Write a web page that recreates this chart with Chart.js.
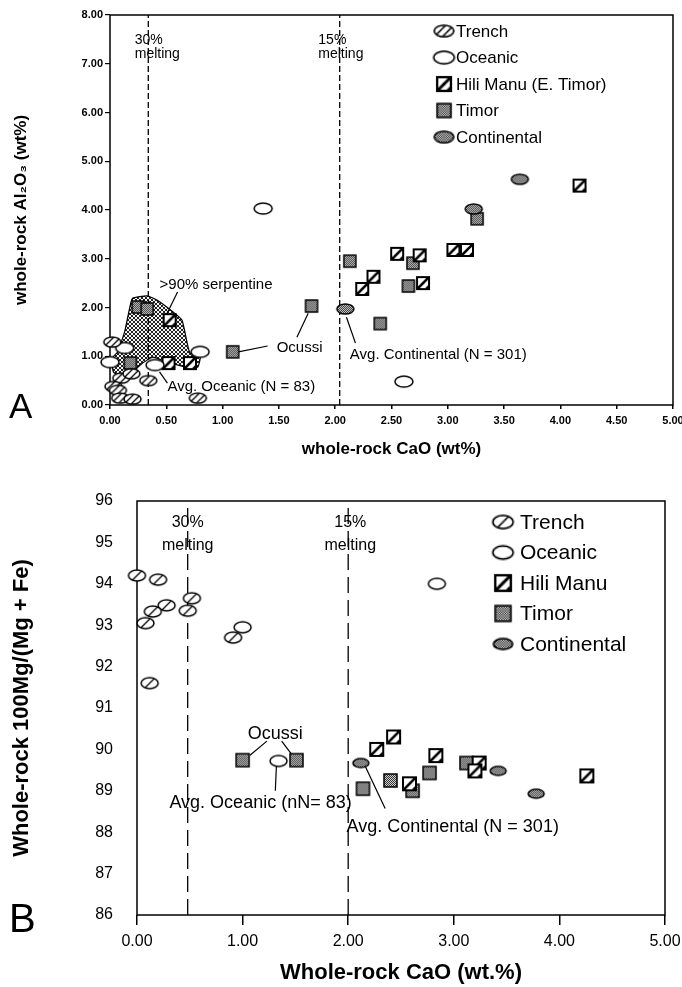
<!DOCTYPE html>
<html>
<head>
<meta charset="utf-8">
<script src="https://cdn.jsdelivr.net/npm/chart.js@4.4.0/dist/chart.umd.min.js"></script>
<style>
  html, body { margin: 0; padding: 0; background: #fff; }
  canvas { display: block; }
</style>
</head>
<body>
<canvas id="graficoA" width="682" height="475" style="width:682px;height:475px"></canvas>
<canvas id="graficoB" width="682" height="512" style="width:682px;height:512px"></canvas>
<script>
// ---- painel A: CaO x Al2O3 (wt%) ----
var trenchA = [[0.02,1.29],[0.1,0.55],[0.19,0.64],[0.03,0.38],[0.07,0.3],[0.09,0.14],[0.2,0.12],[0.34,0.5],[0.78,0.14]];
var oceanicA = [[0.13,1.17],[0.0,0.88],[0.4,0.82],[0.8,1.09],[1.36,4.03],[2.61,0.48]];
var hiliManuA = [[0.53,1.74],[0.52,0.86],[0.71,0.86],[2.24,2.38],[2.34,2.63],[2.55,3.1],[2.75,3.07],[2.78,2.5],[3.05,3.18],[3.17,3.18],[4.17,4.5]];
var timorA = [[0.25,2.01],[0.33,1.97],[0.18,0.86],[1.09,1.09],[1.79,2.03],[2.13,2.95],[2.4,1.67],[2.65,2.44],[2.69,2.91],[3.26,3.82]];
var continentalA = [[2.09,1.97],[3.23,4.02],[3.64,4.63]];
var serpentinaA = [[0.07,1.09],[0.13,1.5],[0.18,2.05],[0.2,2.19],[0.33,2.24],[0.42,2.15],[0.56,1.91],[0.64,1.74],[0.68,1.33],[0.71,1.07],[0.8,0.98],[0.78,0.78],[0.71,0.76],[0.51,0.88],[0.38,0.98],[0.29,0.86],[0.2,0.68],[0.12,0.57],[0.03,0.68],[0.02,0.96],[0.07,1.09]];
var fusaoA = [0.34, 2.04];
var eixoXA = [0, 5, 0.5];
var eixoYA = [0, 8, 1];
var guiasA = [
  [[1.4,1.21],[1.14,1.09]],
  [[1.66,1.39],[1.76,1.88]],
  [[0.6,2.32],[0.49,1.8]],
  [[0.44,0.68],[0.51,0.45]],
  [[2.1,1.8],[2.18,1.27]]
];
var notasA = [
  {x: 0.22, y: 7.49, texto: '30%', fonte: 14},
  {x: 0.22, y: 7.2, texto: 'melting', fonte: 14},
  {x: 1.85, y: 7.49, texto: '15%', fonte: 14},
  {x: 1.85, y: 7.2, texto: 'melting', fonte: 14},
  {x: 0.44, y: 2.46, texto: '>90% serpentine', fonte: 15},
  {x: 1.48, y: 1.17, texto: 'Ocussi', fonte: 15},
  {x: 0.51, y: 0.37, texto: 'Avg. Oceanic (N = 83)', fonte: 15},
  {x: 2.13, y: 1.03, texto: 'Avg. Continental (N = 301)', fonte: 15}
];

// ---- painel B: CaO x Mg# ----
var trenchB = [[0.0,94.2],[0.2,94.1],[0.52,93.65],[0.28,93.48],[0.15,93.33],[0.48,93.35],[0.08,93.05],[0.91,92.7],[0.12,91.6]];
var oceanicB = [[1.0,92.95],[2.84,94.0],[1.34,89.72]];
var hiliManuB = [[2.27,90.0],[2.43,90.3],[2.83,89.85],[2.58,89.17],[3.24,89.67],[3.2,89.48],[4.26,89.36]];
var timorB = [[1.0,89.74],[1.51,89.74],[2.14,89.05],[2.4,89.25],[2.61,89.0],[2.77,89.43],[3.12,89.67]];
var continentalB = [[2.12,89.67],[3.42,89.48],[3.78,88.93]];
var fusaoB = [0.48, 2.0];
var eixoXB = [0, 5, 1];
var eixoYB = [86, 96, 1];
var guiasB = [
  [[1.23,90.2],[1.07,89.86]],
  [[1.37,90.2],[1.47,89.86]],
  [[1.32,89.6],[1.31,89.0]],
  [[2.16,89.6],[2.35,88.57]]
];
var notasB = [
  {x: 0.48, y: 95.47, texto: '30%', fonte: 16, alinhar: 'center'},
  {x: 0.48, y: 94.92, texto: 'melting', fonte: 16, alinhar: 'center'},
  {x: 2.02, y: 95.47, texto: '15%', fonte: 16, alinhar: 'center'},
  {x: 2.02, y: 94.92, texto: 'melting', fonte: 16, alinhar: 'center'},
  {x: 1.31, y: 90.38, texto: 'Ocussi', fonte: 18, alinhar: 'center'},
  {x: 1.17, y: 88.71, texto: 'Avg. Oceanic (nN= 83)', fonte: 18, alinhar: 'center'},
  {x: 2.99, y: 88.13, texto: 'Avg. Continental (N = 301)', fonte: 18, alinhar: 'center'}
];

var FONTE = "'Liberation Sans', Arial, Helvetica, sans-serif";

var Figura = Figura || {};

Figura.marcadores = (function() {

  function tile(w, h, desenho) {
    var c = document.createElement('canvas');
    c.width = w; c.height = h;
    desenho(c.getContext('2d'));
    return c;
  }

  var pontilhado = tile(2, 2, function(g) {
    g.fillStyle = '#d0d0d0'; g.fillRect(0, 0, 2, 2);
    g.fillStyle = '#333'; g.fillRect(0, 0, 1, 1); g.fillRect(1, 1, 1, 1);
  });

  var xadrez = tile(4, 4, function(g) {
    g.fillStyle = '#f4f4f4'; g.fillRect(0, 0, 4, 4);
    g.fillStyle = '#222';
    for (var i = 0; i < 4; i++) { g.fillRect(i, i, 1, 1); g.fillRect(3 - i, i, 1, 1); }
  });

  function criar(tipo, w, h, riscos) {
    var c = document.createElement('canvas');
    c.width = w + 4; c.height = h + 4;
    var g = c.getContext('2d');
    var cx = c.width / 2, cy = c.height / 2;
    var elipse = function() { g.beginPath(); g.ellipse(cx, cy, w / 2, h / 2, 0, 0, Math.PI * 2); };
    var quadro = function() { g.beginPath(); g.rect(2, 2, w, h); };
    var forma = (tipo === 'hili' || tipo === 'timor') ? quadro : elipse;

    forma();
    g.fillStyle = (tipo === 'timor' || tipo === 'continental') ? g.createPattern(pontilhado, 'repeat') : '#fff';
    g.fill();

    if (tipo === 'trench' || tipo === 'hili') {
      g.save();
      forma(); g.clip();
      g.strokeStyle = '#000';
      g.lineWidth = tipo === 'hili' ? 2.6 : 1.3;
      var desl = tipo === 'hili' ? [0, w * 0.75] : (riscos === 1 ? [0] : [-3.5, 3.5]);
      desl.forEach(function(d) {
        g.beginPath();
        g.moveTo(cx - h / 2 + d - 1, cy + h / 2 + 1);
        g.lineTo(cx + h / 2 + d + 1, cy - h / 2 - 1);
        g.stroke();
      });
      g.restore();
    }

    forma();
    g.strokeStyle = '#000';
    g.lineWidth = tipo === 'hili' ? 2 : 1.5;
    g.stroke();
    return c;
  }

  return { criar: criar, xadrez: xadrez };

}());

Figura.pluginMoldura = {
  id: 'moldura',
  beforeDatasetsDraw: function(chart, args, opts) {
    var a = chart.chartArea, ctx = chart.ctx;
    ctx.save();
    ctx.lineWidth = opts.largura;
    ctx.strokeStyle = '#000';
    ctx.strokeRect(a.left, a.top, a.right - a.left, a.bottom - a.top);
    ctx.restore();
  }
};

Figura.pluginNotas = {
  id: 'notas',
  afterDatasetsDraw: function(chart, args, opts) {
    var ctx = chart.ctx, sx = chart.scales.x, sy = chart.scales.y;
    ctx.save();
    ctx.fillStyle = '#000';
    ctx.textBaseline = 'middle';
    opts.textos.forEach(function(t) {
      ctx.font = t.fonte + 'px ' + FONTE;
      ctx.textAlign = t.alinhar || 'left';
      ctx.fillText(t.texto, sx.getPixelForValue(t.x), sy.getPixelForValue(t.y));
    });

    // legenda interna
    var leg = opts.legenda, i = 0;
    ctx.font = leg.fonte + 'px ' + FONTE;
    ctx.textAlign = 'left';
    chart.data.datasets.forEach(function(ds) {
      if (!ds.naLegenda) return;
      var y = leg.y + i * leg.passo;
      var img = ds.pointStyle, w = img.width * leg.escala, h = img.height * leg.escala;
      ctx.drawImage(img, leg.x - w / 2, y - h / 2, w, h);
      ctx.fillText(ds.label, leg.xTexto, y + 1);
      i++;
    });

    ctx.font = opts.letra.fonte + 'px ' + FONTE;
    ctx.textBaseline = 'alphabetic';
    ctx.fillText(opts.letra.texto, opts.letra.x, opts.letra.y);
    ctx.restore();
  }
};

Figura.Painel = (function() {

  function Painel(id, cfg) {
    this.ctx = document.getElementById(id).getContext('2d');
    this.cfg = cfg;
  }

  function pontos(lista) {
    return lista.map(function(p) { return {x: p[0], y: p[1]}; });
  }

  function serie(label, dados, marcador, ordem) {
    return {
      label: label, data: pontos(dados), pointStyle: marcador, pointRadius: 6,
      showLine: false, clip: false, order: ordem, naLegenda: true
    };
  }

  function linha(dados, tracejado, largura) {
    return {
      label: '', data: pontos(dados), showLine: true, pointRadius: 0, borderColor: '#000',
      borderWidth: largura, borderDash: tracejado || [], order: 5, fill: false
    };
  }

  Painel.prototype.iniciar = function() {
    var c = this.cfg;
    var datasets = [
      serie('Trench', c.trench, c.m.trench, 1),
      serie('Oceanic', c.oceanic, c.m.oceanic, 1),
      serie(c.rotuloHili, c.hili, c.m.hili, 1),
      serie('Timor', c.timor, c.m.timor, 1),
      serie('Continental', c.continental, c.m.continental, 0)
    ];
    c.fusao.forEach(function(xf) {
      datasets.push(linha([[xf, c.eixoY[0]], [xf, c.eixoY[1]]], c.tracejado, 1.3));
    });
    c.guias.forEach(function(g) { datasets.push(linha(g, null, 1.2)); });
    if (c.serpentina) {
      datasets.push({
        label: '', data: pontos(c.serpentina), showLine: true, pointRadius: 0, tension: 0.15,
        borderColor: '#000', borderWidth: 1.2, fill: 'shape', order: 9,
        backgroundColor: this.ctx.createPattern(Figura.marcadores.xadrez, 'repeat')
      });
    }

    var fmt = function(casas) { return function(v) { return Number(v).toFixed(casas); }; };

    new Chart(this.ctx, {
      type: 'scatter',
      data: { datasets: datasets },
      options: {
        responsive: false,
        animation: false,
        devicePixelRatio: 1,
        layout: { padding: c.padding },
        plugins: {
          legend: { display: false },
          tooltip: { enabled: false },
          moldura: { largura: 1.5 },
          notas: { textos: c.notas, legenda: c.legenda, letra: c.letra }
        },
        scales: {
          x: {
            type: 'linear', min: c.eixoX[0], max: c.eixoX[1],
            ticks: { stepSize: c.eixoX[2], autoSkip: false, maxRotation: 0, padding: c.x.pad, color: '#000',
                     font: { family: FONTE, size: c.x.fonte, weight: c.x.peso }, callback: fmt(2) },
            grid: { drawOnChartArea: false, tickLength: c.x.tick, color: '#000', lineWidth: 1.5 },
            border: { display: false },
            title: { display: true, text: c.x.titulo, color: '#000',
                     font: { family: FONTE, size: c.x.fonteTitulo, weight: 'bold' },
                     padding: { top: 2, bottom: c.x.padTitulo } },
            afterFit: function(s) { s.height = c.x.altura; s.paddingLeft = 0; s.paddingRight = 0; }
          },
          y: {
            type: 'linear', min: c.eixoY[0], max: c.eixoY[1],
            ticks: { stepSize: c.eixoY[2], padding: c.y.pad, color: '#000',
                     font: { family: FONTE, size: c.y.fonte, weight: c.y.peso }, callback: fmt(c.y.casas) },
            grid: { drawOnChartArea: false, display: c.y.tick > 0, drawTicks: c.y.tick > 0,
                    tickLength: c.y.tick, color: '#000', lineWidth: 1.2 },
            border: { display: false },
            title: { display: true, text: c.y.titulo, color: '#000',
                     font: { family: FONTE, size: c.y.fonteTitulo, weight: 'bold' },
                     padding: { top: c.y.padTitulo, bottom: 0 } },
            afterFit: function(s) { s.width = c.y.largura; s.paddingTop = 0; s.paddingBottom = 0; }
          }
        }
      },
      plugins: [Figura.pluginMoldura, Figura.pluginNotas]
    });
  };

  return Painel;

}());

document.addEventListener('DOMContentLoaded', function() {
  var criar = Figura.marcadores.criar;

  var painelA = new Figura.Painel('graficoA', {
    trench: trenchA, oceanic: oceanicA, hili: hiliManuA, timor: timorA, continental: continentalA,
    rotuloHili: 'Hili Manu (E. Timor)', serpentina: serpentinaA,
    fusao: fusaoA, tracejado: [6, 3], guias: guiasA, notas: notasA,
    eixoX: eixoXA, eixoY: eixoYA,
    m: { trench: criar('trench', 17, 10, 2), oceanic: criar('oceanic', 18, 11), hili: criar('hili', 12, 12),
         timor: criar('timor', 12, 12), continental: criar('continental', 17, 10) },
    padding: { top: 15, right: 9, left: 0, bottom: 0 },
    x: { titulo: 'whole-rock CaO (wt%)', fonte: 11, peso: 'bold', pad: 5, tick: 4, fonteTitulo: 17, padTitulo: 15, altura: 70 },
    y: { titulo: 'whole-rock Al\u2082O\u2083 (wt%)', fonte: 11, peso: 'bold', pad: 2, tick: 5, casas: 2, fonteTitulo: 17, padTitulo: 11, largura: 110 },
    legenda: { x: 444, xTexto: 456, y: 31, passo: 26.5, fonte: 17, escala: 1.15 },
    letra: { texto: 'A', x: 9, y: 418, fonte: 35 }
  });
  painelA.iniciar();

  var painelB = new Figura.Painel('graficoB', {
    trench: trenchB, oceanic: oceanicB, hili: hiliManuB, timor: timorB, continental: continentalB,
    rotuloHili: 'Hili Manu', serpentina: null,
    fusao: fusaoB, tracejado: [16, 7], guias: guiasB, notas: notasB,
    eixoX: eixoXB, eixoY: eixoYB,
    m: { trench: criar('trench', 17, 11, 1), oceanic: criar('oceanic', 17, 11), hili: criar('hili', 13, 13),
         timor: criar('timor', 13, 13), continental: criar('continental', 16, 9) },
    padding: { top: 26, right: 17, left: 0, bottom: 0 },
    x: { titulo: 'Whole-rock CaO (wt.%)', fonte: 16, peso: 'normal', pad: 7, tick: 10, fonteTitulo: 22, padTitulo: 1, altura: 72 },
    y: { titulo: 'Whole-rock 100Mg/(Mg + Fe)', fonte: 16, peso: 'normal', pad: 24, tick: 0, casas: 0, fonteTitulo: 22, padTitulo: 9, largura: 137 },
    legenda: { x: 503, xTexto: 520, y: 47, passo: 30.5, fonte: 21, escala: 1.2 },
    letra: { texto: 'B', x: 9, y: 457, fonte: 40 }
  });
  painelB.iniciar();
});
</script>
</body>
</html>
